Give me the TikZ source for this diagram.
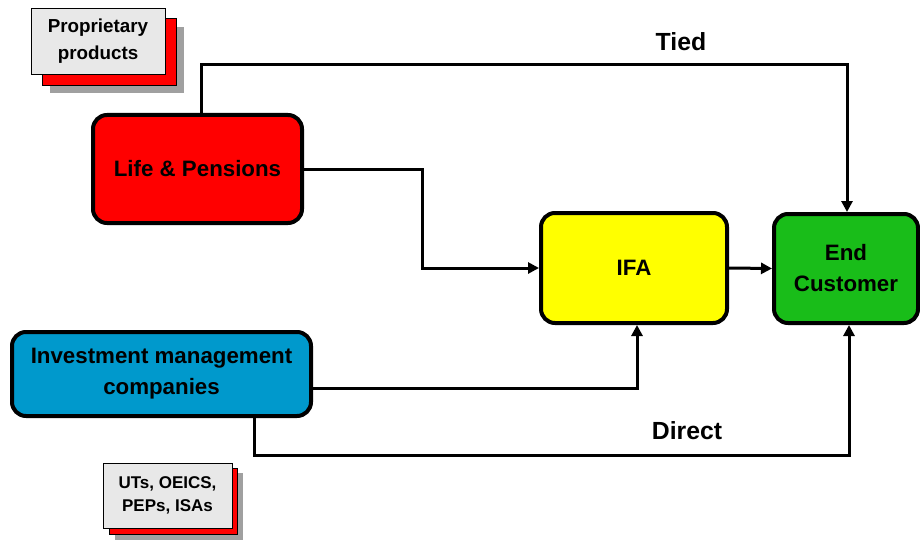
\documentclass[tikz,border=0pt]{standalone}
\usepackage{fontspec}
\setmainfont{Liberation Sans}
\usetikzlibrary{arrows.meta}
\definecolor{lpred}{HTML}{FF0000}
\definecolor{ifayel}{HTML}{FFFF00}
\definecolor{custgreen}{HTML}{19BD19}
\definecolor{imblue}{HTML}{0099CC}
\definecolor{cardgray}{HTML}{E8E8E8}
\definecolor{backgray}{HTML}{A0A0A0}
\begin{document}
\begin{tikzpicture}[x=1pt,y=-1pt,
  mainbox/.style={draw=black,line width=4pt,rounded corners=14pt,
    font=\fontsize{22.3}{31}\selectfont\bfseries,align=center,inner sep=0pt},
  card/.style={draw=black,line width=0.8pt,fill=cardgray,inner sep=0pt,
    font=\fontsize{18.8}{27}\selectfont\bfseries,align=center},
  flow/.style={line width=3pt,-{Triangle[length=11pt,width=11pt]}},
  lbl/.style={font=\fontsize{24.8}{28}\selectfont\bfseries}]
\useasboundingbox (0,0) rectangle (920,540);

% stacked card: proprietary products
\fill[backgray] (50,27) rectangle (184,93);
\fill[lpred,draw=black,line width=0.4pt] (42,18) rectangle (176,85);
\node[card,minimum width=134pt,minimum height=66pt] (prop) at (98,41.5)
  {Proprietary\\products};

% stacked card: fund wrappers
\fill[backgray] (115,473) rectangle (243,540);
\fill[lpred,draw=black,line width=0.4pt] (109,468) rectangle (237,534);
\node[card,font=\fontsize{17}{23}\selectfont\bfseries,
  minimum width=129pt,minimum height=65pt] (uts) at (167.5,495.5)
  {UTs, OEICS,\\PEPs, ISAs};

% main boxes
\node[mainbox,fill=lpred,minimum width=209pt,minimum height=108pt] (lp)
  at (197.5,169) {Life \& Pensions};
\node[mainbox,fill=imblue,minimum width=299pt,minimum height=84pt] (im)
  at (161.5,374) {Investment management\\companies};
\node[mainbox,fill=ifayel,minimum width=186pt,minimum height=110pt] (ifa)
  at (634,268) {IFA};
\node[mainbox,fill=custgreen,minimum width=144pt,minimum height=109pt] (ec)
  at (846,268.5) {End\\Customer};

% connectors
\coordinate (tl) at (201,65);
\coordinate (tr) at (847,65);
\draw[flow] (lp.north -| tl) -- (tl) -- (tr) -- (ec.north -| tr);
\node[lbl] (tied) at (681,42) {Tied};

\coordinate (lk) at (422,170);
\draw[flow] (lp.east |- lk) -- (lk) -- (422,268) -- (ifa.west |- 0,268);

\draw[flow] (ifa.east) -- (ec.west);

\coordinate (ik) at (637,388);
\draw[flow] (im.east |- ik) -- (ik) -- (ifa.south -| ik);

\coordinate (dl) at (254,455);
\coordinate (dr) at (849,455);
\draw[flow] (im.south -| dl) -- (dl) -- (dr) -- (ec.south -| dr);
\node[lbl] (direct) at (687,431) {Direct};
\end{tikzpicture}
\end{document}
